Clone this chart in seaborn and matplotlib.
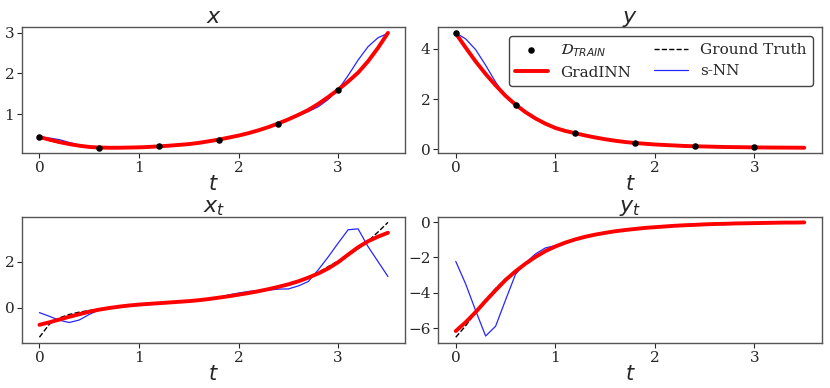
import numpy as np
import pandas as pd
import matplotlib
matplotlib.use("Agg")
import matplotlib.pyplot as plt
import seaborn as sns

sns.set_style("white")
plt.rcParams['font.family'] = ['DejaVu Serif']
plt.rcParams['mathtext.fontset'] = 'dejavusans'

# time grid (0 .. 3.5, step 0.1)
t = [round(0.1 * i, 1) for i in range(36)]
t_train = [0.0, 0.6, 1.2, 1.8, 2.4, 3.0]

# ---- x ----
x_train = [0.435, 0.17, 0.21, 0.37, 0.76, 1.60]
x_gradinn = [0.435, 0.37, 0.31, 0.26, 0.22, 0.19, 0.175, 0.17, 0.17, 0.175,
             0.18, 0.19, 0.205, 0.22, 0.24, 0.26, 0.29, 0.33, 0.37, 0.42,
             0.47, 0.53, 0.60, 0.68, 0.77, 0.87, 0.98, 1.10, 1.25, 1.42,
             1.60, 1.80, 2.02, 2.30, 2.63, 3.00]
x_gt = [0.43, 0.35, 0.29, 0.25, 0.215, 0.19, 0.175, 0.17, 0.17, 0.175,
        0.18, 0.19, 0.205, 0.22, 0.24, 0.26, 0.29, 0.33, 0.37, 0.42,
        0.47, 0.53, 0.60, 0.68, 0.77, 0.87, 0.98, 1.10, 1.25, 1.42,
        1.60, 1.80, 2.02, 2.30, 2.63, 3.00]
x_snn = [0.43, 0.41, 0.37, 0.30, 0.24, 0.20, 0.175, 0.17, 0.17, 0.175,
         0.18, 0.19, 0.205, 0.22, 0.24, 0.26, 0.29, 0.33, 0.37, 0.42,
         0.47, 0.53, 0.60, 0.68, 0.77, 0.86, 0.96, 1.06, 1.18, 1.36,
         1.60, 1.95, 2.33, 2.66, 2.88, 2.99]

# ---- y ----
y_train = [4.64, 1.77, 0.65, 0.24, 0.11, 0.07]
y_gradinn = [4.62, 4.05, 3.50, 3.00, 2.55, 2.13, 1.78, 1.48, 1.23, 1.02,
             0.85, 0.73, 0.64, 0.55, 0.47, 0.40, 0.34, 0.29, 0.25, 0.22,
             0.19, 0.17, 0.15, 0.13, 0.12, 0.11, 0.10, 0.09, 0.085, 0.08,
             0.075, 0.07, 0.068, 0.065, 0.063, 0.06]
y_gt = list(y_gradinn)
y_snn = [4.64, 4.40, 3.97, 3.35, 2.68, 2.10, 1.75, 1.45, 1.22, 1.02,
         0.85, 0.73, 0.64, 0.55, 0.47, 0.40, 0.34, 0.29, 0.25, 0.22,
         0.19, 0.17, 0.15, 0.13, 0.12, 0.11, 0.10, 0.09, 0.085, 0.08,
         0.075, 0.07, 0.068, 0.065, 0.063, 0.06]

# ---- x_t ----
xt_gradinn = [-0.75, -0.64, -0.52, -0.40, -0.29, -0.18, -0.09, -0.02, 0.04, 0.09,
              0.13, 0.16, 0.19, 0.22, 0.25, 0.28, 0.32, 0.37, 0.43, 0.49,
              0.56, 0.63, 0.71, 0.80, 0.90, 1.01, 1.14, 1.30, 1.48, 1.70,
              1.97, 2.30, 2.62, 2.88, 3.08, 3.25]
xt_gt = [-1.29, -0.72, -0.45, -0.30, -0.20, -0.13, -0.07, -0.02, 0.04, 0.09,
         0.13, 0.16, 0.19, 0.22, 0.25, 0.28, 0.32, 0.37, 0.43, 0.49,
         0.56, 0.63, 0.71, 0.80, 0.90, 1.01, 1.14, 1.28, 1.52, 1.78,
         2.02, 2.27, 2.55, 2.88, 3.28, 3.70]
xt_snn = [-0.22, -0.38, -0.55, -0.65, -0.54, -0.30, -0.10, -0.02, 0.04, 0.09,
          0.13, 0.16, 0.19, 0.22, 0.25, 0.28, 0.32, 0.37, 0.43, 0.55,
          0.63, 0.70, 0.74, 0.76, 0.80, 0.81, 0.94, 1.13, 1.64, 2.20,
          2.80, 3.38, 3.42, 2.65, 2.00, 1.35]

# ---- y_t ----
yt_gradinn = [-6.15, -5.65, -5.08, -4.45, -3.85, -3.27, -2.78, -2.35, -1.97, -1.64,
              -1.38, -1.16, -0.98, -0.83, -0.71, -0.61, -0.52, -0.45, -0.39, -0.33,
              -0.29, -0.25, -0.21, -0.18, -0.16, -0.13, -0.11, -0.10, -0.08, -0.07,
              -0.06, -0.05, -0.04, -0.03, -0.03, -0.02]
yt_gt = [-6.50, -5.85, -5.10, -4.40, -3.75, -3.20, -2.76, -2.35, -1.97, -1.64,
         -1.38, -1.16, -0.98, -0.83, -0.71, -0.61, -0.52, -0.45, -0.39, -0.33,
         -0.29, -0.25, -0.21, -0.18, -0.16, -0.13, -0.11, -0.10, -0.08, -0.07,
         -0.06, -0.05, -0.04, -0.03, -0.03, -0.02]
yt_snn = [-2.22, -3.50, -5.00, -6.43, -5.88, -4.40, -2.95, -2.31, -1.80, -1.46,
          -1.33, -1.16, -0.98, -0.83, -0.71, -0.61, -0.52, -0.45, -0.39, -0.33,
          -0.29, -0.25, -0.21, -0.18, -0.16, -0.13, -0.11, -0.10, -0.08, -0.07,
          -0.06, -0.05, -0.04, -0.03, -0.03, -0.02]

titles = [r'$x$', r'$y$', r'$x_t$', r'$y_t$']
yticks = [[1, 2, 3], [0, 2, 4], [0, 2], [0, -2, -4, -6]]
xticks = [0, 1, 2, 3]

fig, axes = plt.subplots(2, 2, figsize=(8.3, 3.88), dpi=100)
fig.subplots_adjust(left=0.0265, right=0.990, top=0.930, bottom=0.116,
                    hspace=0.5, wspace=0.086)

panels = [
    (x_gradinn, x_gt, x_snn, x_train),
    (y_gradinn, y_gt, y_snn, y_train),
    (xt_gradinn, xt_gt, xt_snn, None),
    (yt_gradinn, yt_gt, yt_snn, None),
]

for ax, (g, gt, s, tr), title, yt in zip(axes.flat, panels, titles, yticks):
    sns.lineplot(x=t, y=gt, ax=ax, color='black', lw=1.0, linestyle='--',
                 label='Ground Truth', errorbar=None, sort=False, zorder=2)
    sns.lineplot(x=t, y=s, ax=ax, color='blue', lw=0.9, alpha=0.85,
                 label='s-NN', errorbar=None, sort=False, zorder=2.5)
    sns.lineplot(x=t, y=g, ax=ax, color='red', lw=2.8, label='GradINN',
                 errorbar=None, sort=False, zorder=3)
    if tr is not None:
        sns.scatterplot(x=t_train, y=tr, ax=ax, color='black', s=22,
                        edgecolor='black', linewidth=0, zorder=5,
                        label=r'$\mathcal{D}_{TRAIN}$')
    ax.set_title(title, fontsize=16, pad=3)
    ax.set_xlabel(r'$t$', fontsize=15, labelpad=0)
    ax.set_ylabel('')
    ax.set_xticks(xticks)
    ax.set_yticks(yt)
    ax.tick_params(axis='both', labelsize=11, length=3.5, width=0.8,
                   direction='out', left=True, bottom=True, pad=2)
    for sp in ax.spines.values():
        sp.set_color('#555555')
        sp.set_linewidth(1.0)
    if ax.get_legend() is not None:
        ax.get_legend().remove()

# legend only in top-right panel
ax = axes[0, 1]
h, l = ax.get_legend_handles_labels()
order = [l.index(r'$\mathcal{D}_{TRAIN}$'), l.index('GradINN'),
         l.index('Ground Truth'), l.index('s-NN')]
leg = ax.legend([h[i] for i in order], [l[i] for i in order], ncol=2,
                loc='upper right', fontsize=11, frameon=True,
                edgecolor='#444444', framealpha=1.0, handlelength=2.2,
                columnspacing=1.5, borderpad=0.4, labelspacing=0.45,
                borderaxespad=0, bbox_to_anchor=(1 - 9 / 384, 1 - 9 / 128))
leg.get_frame().set_linewidth(1.0)

fig.savefig('out.png', dpi=100)
